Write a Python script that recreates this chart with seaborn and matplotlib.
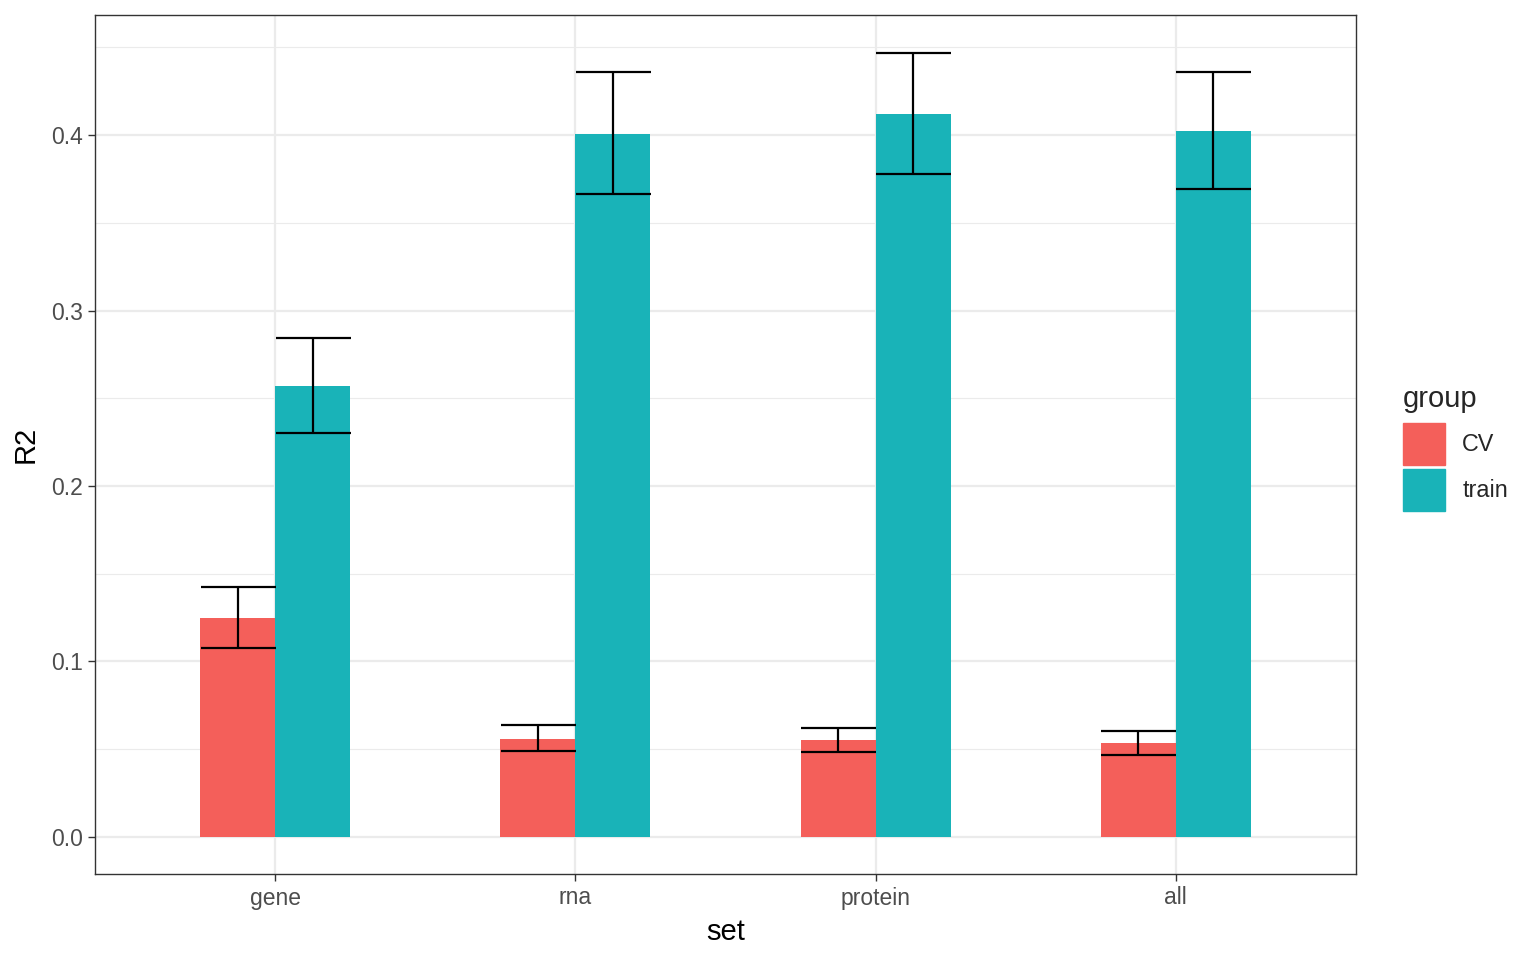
import numpy as np
import pandas as pd
import matplotlib
matplotlib.use("Agg")
import matplotlib.pyplot as plt
import seaborn as sns
from matplotlib.ticker import MultipleLocator

sets = ["gene", "rna", "protein", "all"]
groups = ["CV", "train"]
cv_r2 = [0.1248, 0.0558, 0.0553, 0.0536]
cv_lo = [0.1077, 0.0490, 0.0484, 0.0467]
cv_hi = [0.1425, 0.0638, 0.0621, 0.0604]
train_r2 = [0.2570, 0.4006, 0.4120, 0.4023]
train_lo = [0.2302, 0.3664, 0.3778, 0.3692]
train_hi = [0.2843, 0.4359, 0.4467, 0.4359]

colors = {"CV": "#F45F5A", "train": "#19B3B8"}

df = pd.DataFrame({
    "set": sets * 2,
    "group": ["CV"] * 4 + ["train"] * 4,
    "R2": cv_r2 + train_r2,
    "lo": cv_lo + train_lo,
    "hi": cv_hi + train_hi,
})

sns.set_theme(style="white")
plt.rcParams["font.family"] = ["Liberation Sans", "DejaVu Sans"]

fig = plt.figure(figsize=(15.36, 9.6), dpi=100)
ax = fig.add_axes([95 / 1536, 1 - 874 / 960, (1356 - 95) / 1536, (874 - 15) / 960])

sns.barplot(data=df, x="set", y="R2", hue="group", order=sets, hue_order=groups,
            palette=colors, width=0.5, gap=0, errorbar=None, saturation=1,
            linewidth=0, ax=ax, zorder=3)

# error bars centred on each bar, cap as wide as the bar
bw = 0.25
for i, g in enumerate(groups):
    sub = df[df["group"] == g]
    xs = np.arange(len(sets)) + (i - 0.5) * bw
    ax.errorbar(xs, sub["R2"], yerr=[sub["R2"] - sub["lo"], sub["hi"] - sub["R2"]],
                fmt="none", ecolor="black", elinewidth=1.6, capsize=27,
                capthick=1.6, zorder=4)

ax.set_xlim(-0.6, 3.6)
ax.set_ylim(-0.0211, 0.4684)
ax.yaxis.set_major_locator(MultipleLocator(0.1))
ax.yaxis.set_minor_locator(MultipleLocator(0.05))
ax.yaxis.set_major_formatter(matplotlib.ticker.FormatStrFormatter("%.1f"))
ax.grid(True, which="major", color="#EBEBEB", linewidth=1.6, zorder=0)
ax.grid(True, which="minor", axis="y", color="#EBEBEB", linewidth=0.8, zorder=0)
ax.set_axisbelow(True)
for s in ax.spines.values():
    s.set_color("#333333")
    s.set_linewidth(1.0)
ax.tick_params(axis="both", which="major", length=5, width=1.0, color="#333333",
               labelsize=16.5, labelcolor="#4D4D4D", pad=4, left=True, bottom=True)
ax.tick_params(axis="y", which="minor", length=0)
ax.set_xlabel("set", fontsize=21, color="black", labelpad=6)
ax.set_ylabel("R2", fontsize=21, color="black", labelpad=8)

ax.get_legend().remove()
handles = [matplotlib.patches.Patch(color=colors[g], label=g) for g in groups]
leg = fig.legend(handles=handles, title="group", loc="upper left",
                 bbox_to_anchor=(1384 / 1536, 1 - 366 / 960), frameon=False,
                 fontsize=16.8, title_fontsize=21, handlelength=1.8, handleheight=2.39,
                 labelspacing=0.15, handletextpad=0.75, alignment="left", borderpad=0.3)
# a bit more room between the title and the keys
leg._legend_box.sep = 7.5

fig.savefig("out.png", dpi=100)
